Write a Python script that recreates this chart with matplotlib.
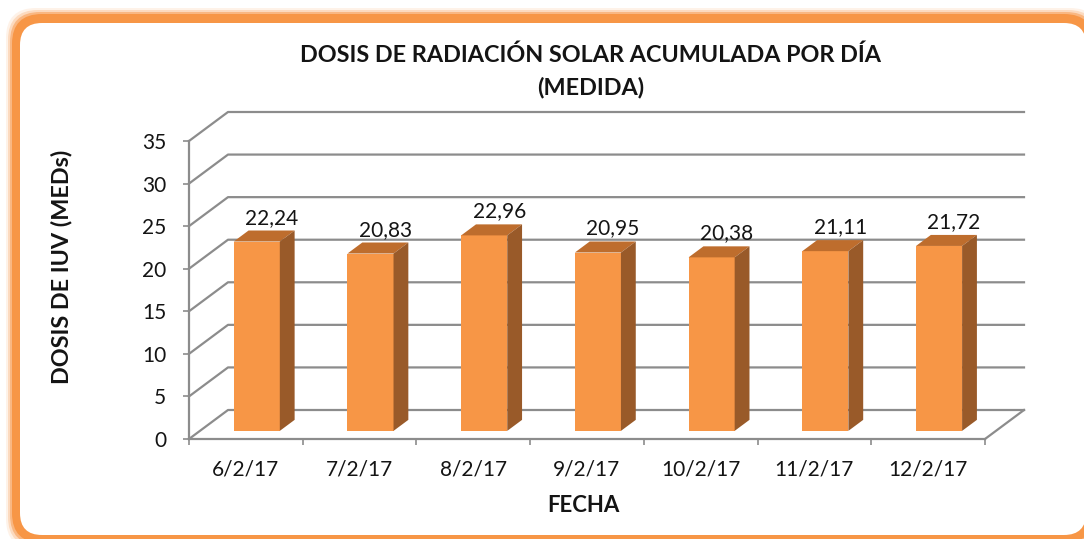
import numpy as np
import matplotlib
matplotlib.use('Agg')
import matplotlib.pyplot as plt
from matplotlib.patches import FancyBboxPatch, Polygon
from matplotlib.transforms import IdentityTransform

### Dosis de radiacion solar acumulada por dia (medida)
fechas = ['6/2/17', '7/2/17', '8/2/17', '9/2/17', '10/2/17', '11/2/17', '12/2/17']
dosis = [22.24, 20.83, 22.96, 20.95, 20.38, 21.11, 21.72]
y_ticks = [0, 5, 10, 15, 20, 25, 30, 35]

plt.rcParams['font.family'] = ['Lato', 'DejaVu Sans']

W, H = 1084, 539
fig = plt.figure(figsize=(W / 100, H / 100), dpi=100)
fig.patch.set_facecolor('white')

naranja = '#F79646'
gris = '#8c8c8c'
texto = '#141414'

# marco redondeado naranja con un poco de brillo (pixeles)
for grow, alpha in [(6, 0.12), (4, 0.25), (2, 0.5)]:
    glow = FancyBboxPatch((12 - grow, -4 - grow), 1082 + 2 * grow, 529 + 2 * grow,
                          boxstyle='round,pad=0,rounding_size=30', transform=IdentityTransform(),
                          facecolor=naranja, edgecolor='none', alpha=alpha, zorder=-12)
    fig.add_artist(glow)
marco = FancyBboxPatch((12, -4), 1082, 529, boxstyle='round,pad=0,rounding_size=30',
                       transform=IdentityTransform(), facecolor=naranja, edgecolor='none', zorder=-11)
fig.add_artist(marco)
fondo = FancyBboxPatch((20, 4), 1066, 512, boxstyle='round,pad=0,rounding_size=22',
                       transform=IdentityTransform(), facecolor='white', edgecolor='none', zorder=-10)
fig.add_artist(fondo)

ax = fig.add_axes([189 / W, (H - 439) / H, 796 / W, 298 / H])
ax.set_xlim(0, 7)
ax.set_ylim(0, 35)
ax.patch.set_visible(False)

# profundidad 3D en unidades de datos
ppx = 7 / 796
ppy = 35 / 298
Dx, Dy = 39 * ppx, 29 * ppy

for y in y_ticks:
    ax.plot([0, Dx, 7 + Dx], [y, y + Dy, y + Dy], color=gris, lw=1.6, clip_on=False, zorder=1)
ax.plot([7, 7 + Dx], [0, Dy], color=gris, lw=1.6, clip_on=False, zorder=1)

xc = np.arange(len(fechas)) + 0.5
f0, fd, w = 0.28, 0.38, 0.405
bars = ax.bar(xc + f0 * Dx, dosis, width=w, bottom=f0 * Dy, color=naranja,
              zorder=3, clip_on=False)

for c, v in zip(xc, dosis):
    left = c + f0 * Dx - w / 2
    right = left + w
    b = f0 * Dy
    t = v + f0 * Dy
    ddx, ddy = fd * Dx, fd * Dy
    ax.add_patch(Polygon([(left, t), (right, t), (right + ddx, t + ddy), (left + ddx, t + ddy)],
                         closed=True, facecolor='#BE6D2D', edgecolor='none', zorder=3, clip_on=False))
    ax.add_patch(Polygon([(right, b), (right + ddx, b + ddy), (right + ddx, t + ddy), (right, t)],
                         closed=True, facecolor='#995A29', edgecolor='none', zorder=3, clip_on=False))
    ax.annotate(f'{v:.2f}'.replace('.', ','), xy=(c + f0 * Dx, t), xytext=(10.8, 12.9),
                textcoords='offset points', ha='center', va='baseline', fontsize=15, color=texto)

for s in ['top', 'right']:
    ax.spines[s].set_visible(False)
for s in ['left', 'bottom']:
    ax.spines[s].set_color(gris)
    ax.spines[s].set_linewidth(1.6)
    ax.spines[s].set_zorder(2)

ax.set_yticks(y_ticks)
ax.tick_params(axis='y', length=4.3, width=1.2, color=gris, pad=12, labelsize=15, labelcolor=texto)
ax.set_xticks(range(len(fechas) + 1))
ax.set_xticklabels([])
ax.set_xticks(xc, minor=True)
ax.set_xticklabels(fechas, minor=True)
ax.tick_params(axis='x', which='major', length=4.3, width=1.2, color=gris)
ax.tick_params(axis='x', which='minor', length=0, pad=15, labelsize=15, labelcolor=texto)

fig.text(591 / W, 1 - 55 / H, 'DOSIS DE RADIACIÓN SOLAR ACUMULADA POR DÍA', ha='center', va='center',
         fontsize=16.8, fontweight='bold', color=texto)
fig.text(591 / W, 1 - 88 / H, '(MEDIDA)', ha='center', va='center',
         fontsize=16.8, fontweight='bold', color=texto)
fig.text(62 / W, 1 - 267 / H, 'DOSIS DE IUV (MEDs)', ha='center', va='center', rotation=90,
         fontsize=16.8, fontweight='bold', color=texto)
fig.text(583 / W, 1 - 505 / H, 'FECHA', ha='center', va='center',
         fontsize=16, fontweight='bold', color=texto)

fig.savefig('out.png', dpi=100)
